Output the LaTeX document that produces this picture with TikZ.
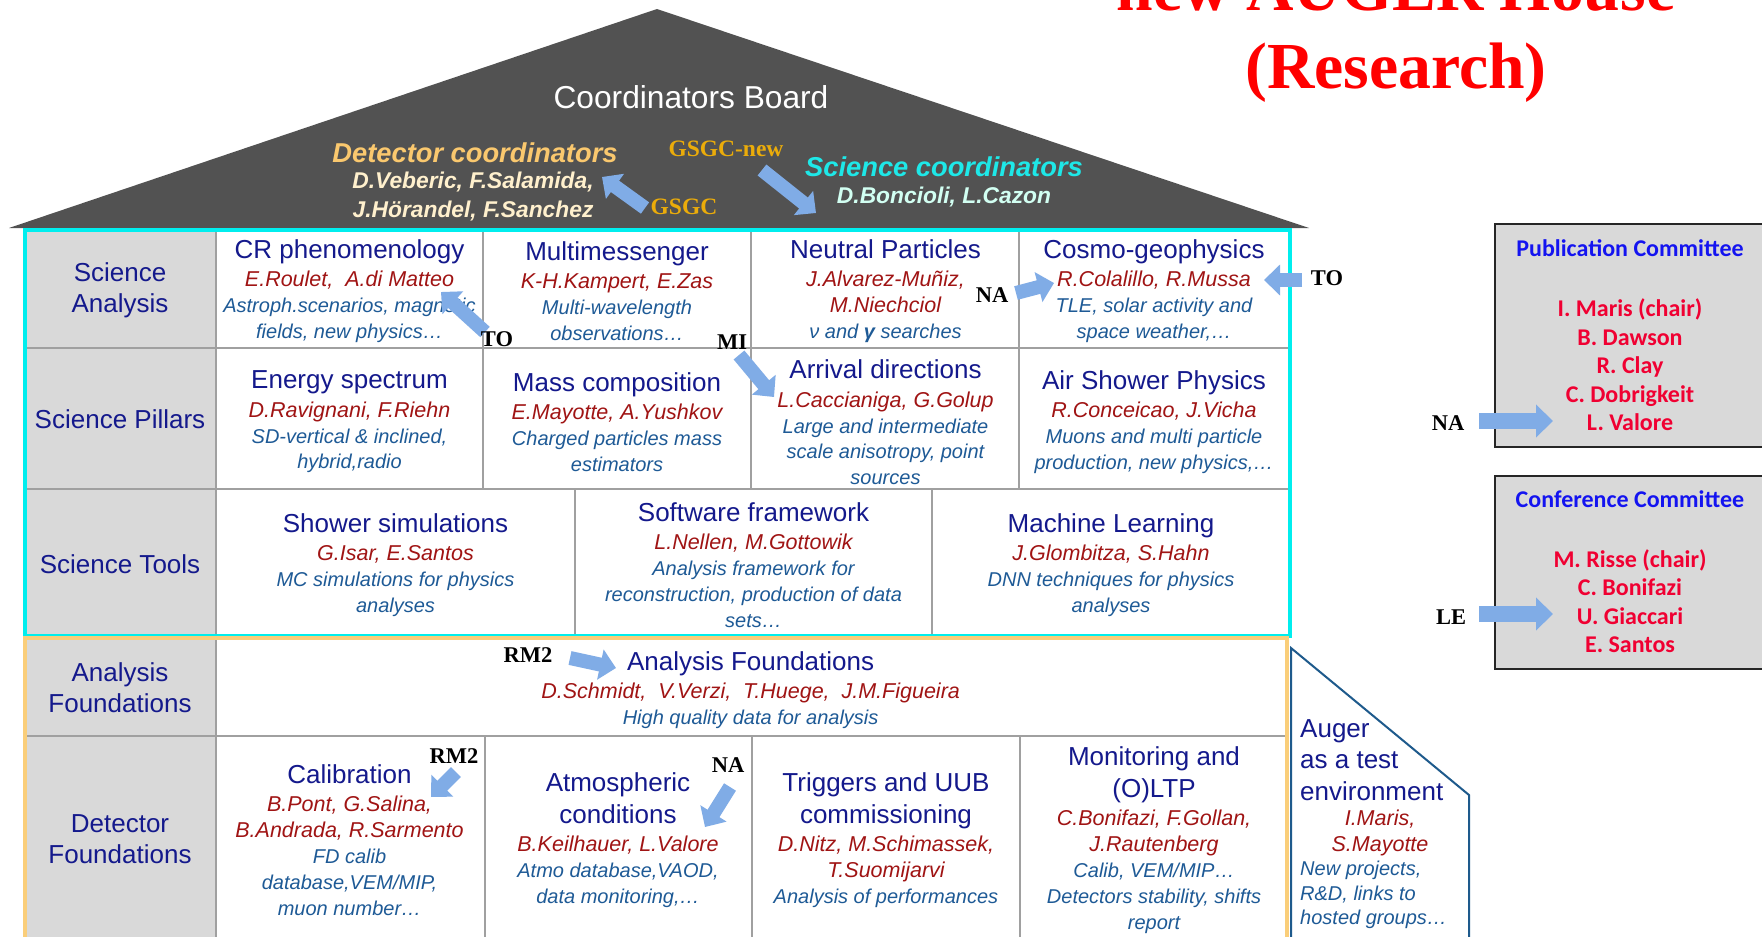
\documentclass[tikz,border=0pt]{standalone}
\usepackage{fontspec}
\setmainfont{Liberation Sans}
\newfontfamily\timesf{Liberation Serif}
\newfontfamily\calibf{Carlito}
\usetikzlibrary{arrows.meta,calc}
\definecolor{titleblue}{RGB}{20,25,140}
\definecolor{namered}{RGB}{160,20,20}
\definecolor{descblue}{RGB}{30,90,150}
\definecolor{lblgray}{RGB}{217,217,217}
\definecolor{gridgray}{RGB}{160,160,160}
\definecolor{framecyan}{RGB}{0,238,238}
\definecolor{frameorange}{RGB}{250,206,122}
\definecolor{roofgray}{RGB}{82,82,82}
\definecolor{detorange}{RGB}{250,200,110}
\definecolor{detname}{RGB}{255,240,205}
\definecolor{scicyan}{RGB}{30,232,232}
\definecolor{sciname}{RGB}{210,255,242}
\definecolor{gsgc}{RGB}{235,172,10}
\definecolor{arrowblue}{RGB}{128,172,230}
\definecolor{augerblue}{RGB}{30,90,140}
\definecolor{comblue}{RGB}{20,20,240}
\definecolor{comred}{RGB}{240,0,50}
\definecolor{titlered}{RGB}{255,0,0}
\newcommand\celltitle[1]{{\upshape\fontsize{26}{31.5}\selectfont\color{titleblue}#1}}
\newcommand\cellname[1]{{\fontsize{21.5}{25.8}\selectfont\color{namered}#1}}
\tikzset{
  cell/.style={align=center, inner sep=0pt, text=descblue, font=\itshape\fontsize{20}{25.8}\selectfont},
  lbl/.style={align=center, inner sep=0pt, text=titleblue, font=\fontsize{26}{31.2}\selectfont},
  tag/.style={inner sep=0pt, text=black, font=\timesf\bfseries\fontsize{22.5}{27}\selectfont},
  gtag/.style={inner sep=0pt, text=gsgc, font=\timesf\bfseries\fontsize{23.5}{28}\selectfont},
  barrow/.style={draw=arrowblue, line width=14pt, -{Triangle[width=30pt,length=16pt]}},
  bigarrow/.style={draw=arrowblue, line width=15.5pt, -{Triangle[width=32pt,length=17pt]}},
  gridline/.style={draw=gridgray, line width=1.5pt},
  combox/.style={draw=black!85, line width=2pt, fill=lblgray},
  comtitle/.style={inner sep=0pt, text=comblue, font=\calibf\bfseries\fontsize{24}{28}\selectfont},
  comnames/.style={inner sep=0pt, align=center, text=comred, font=\calibf\bfseries\fontsize{24}{28.5}\selectfont},
  bigtitle/.style={inner sep=0pt, text=titlered, font=\timesf\bfseries\fontsize{65.7}{78}\selectfont},
}
\begin{document}
\begin{tikzpicture}[x=1pt,y=-1pt]
\useasboundingbox (0,0) rectangle (1762,937);
\clip (0,0) rectangle (1762,937);
\fill[white] (0,0) rectangle (1762,937);

% ---------- title ----------
\node[bigtitle, anchor=base] (t1) at (1396,10) {new AUGER House};
\node[bigtitle, anchor=base] (t2) at (1396,88) {(Research)};

% ---------- roof ----------
\fill[roofgray] (657,9) -- (1309,228) -- (9,228) -- cycle;
\node[inner sep=0pt, text=white, font=\fontsize{31.7}{36}\selectfont] (cb) at (691,97) {Coordinators Board};
\node[inner sep=0pt, text=detorange, font=\bfseries\itshape\fontsize{27.3}{33}\selectfont] (dc) at (475,153) {Detector coordinators};
\node[inner sep=0pt, align=center, text=detname, font=\bfseries\itshape\fontsize{22.8}{29}\selectfont] (dcn) at (473,197) {D.Veberic, F.Salamida,\\J.Hörandel, F.Sanchez};
\node[inner sep=0pt, text=scicyan, font=\bfseries\itshape\fontsize{27.3}{33}\selectfont] (sc) at (944,167) {Science coordinators};
\node[inner sep=0pt, text=sciname, font=\bfseries\itshape\fontsize{22.8}{29}\selectfont] (scn) at (944,197) {D.Boncioli, L.Cazon};
\node[gtag] (gnew) at (726,149) {GSGC-new};
\node[gtag] (gold) at (684,207) {GSGC};

% ---------- gray label columns ----------
\fill[lblgray] (25,230) rectangle (216,636);
\fill[lblgray] (25,638) rectangle (216,937);

% ---------- grid ----------
\draw[gridline] (25,348) -- (1290,348);
\draw[gridline] (25,489) -- (1290,489);
\draw[gridline] (216,230) -- (216,636);
\draw[gridline] (483,230) -- (483,489);
\draw[gridline] (751,230) -- (751,489);
\draw[gridline] (1019,230) -- (1019,489);
\draw[gridline] (575,489) -- (575,636);
\draw[gridline] (932,489) -- (932,636);
\draw[gridline] (25,736) -- (1287,736);
\draw[gridline] (216,638) -- (216,937);
\draw[gridline] (485,736) -- (485,937);
\draw[gridline] (752,736) -- (752,937);
\draw[gridline] (1020,736) -- (1020,937);

% ---------- frames ----------
\draw[framecyan, line width=4pt] (25,230) rectangle (1290,636);
\draw[frameorange, line width=4pt] (25,638) rectangle (1287,960);
\draw[augerblue, line width=2pt] (1291,960) -- (1291,648) -- (1469,795) -- (1469,960);

% ---------- row labels ----------
\node[lbl] (lSA) at (120,290) {Science\\Analysis};
\node[lbl] (lSP) at (120,419) {Science Pillars};
\node[lbl] (lST) at (120,564) {Science Tools};
\node[lbl] (lAF) at (120,688) {Analysis\\Foundations};
\node[lbl] (lDF) at (120,839) {Detector\\Foundations};

% ---------- row 1 ----------
\node[cell] (cr) at (349.5,291) {\celltitle{CR phenomenology}\\[2.5pt]\cellname{E.Roulet,\ \ A.di Matteo}\\Astroph.scenarios, magnetic\\fields, new physics…};
\node[cell] (mm) at (617,291) {\celltitle{Multimessenger}\\[2.5pt]\cellname{K-H.Kampert, E.Zas}\\Multi-wavelength\\observations…};
\node[cell] (np) at (885.5,291) {\celltitle{Neutral Particles}\\[2.5pt]\cellname{J.Alvarez-Muñiz,}\\\cellname{M.Niechciol}\\ν and {\bfseries γ} searches};
\node[cell] (cg) at (1154,291) {\celltitle{Cosmo-geophysics}\\[2.5pt]\cellname{R.Colalillo, R.Mussa}\\TLE, solar activity and\\space weather,…};

% ---------- row 2 ----------
\node[cell] (es) at (349.5,422) {\celltitle{Energy spectrum}\\[2.5pt]\cellname{D.Ravignani, F.Riehn}\\SD-vertical \& inclined,\\hybrid,radio};
\node[cell] (mc) at (617,422) {\celltitle{Mass composition}\\[2.5pt]\cellname{E.Mayotte, A.Yushkov}\\Charged particles mass\\estimators};
\node[cell] (ad) at (885.5,422.5) {\celltitle{Arrival directions}\\[2.5pt]\cellname{L.Caccianiga, G.Golup}\\Large and intermediate\\scale anisotropy, point\\sources};
\node[cell] (as) at (1154,422) {\celltitle{Air Shower Physics}\\[2.5pt]\cellname{R.Conceicao, J.Vicha}\\Muons and multi particle\\production, new physics,…};

% ---------- row 3 ----------
\node[cell] (ss) at (395.5,565) {\celltitle{Shower simulations}\\[2.5pt]\cellname{G.Isar, E.Santos}\\MC simulations for physics\\analyses};
\node[cell] (sf) at (753.5,565) {\celltitle{Software framework}\\[2.5pt]\cellname{L.Nellen, M.Gottowik}\\Analysis framework for\\reconstruction, production of data\\sets…};
\node[cell] (ml) at (1111,565) {\celltitle{Machine Learning}\\[2.5pt]\cellname{J.Glombitza, S.Hahn}\\DNN techniques for physics\\analyses};

% ---------- foundations ----------
\node[cell] (af) at (750.6,690) {\celltitle{Analysis Foundations}\\[2.5pt]\cellname{D.Schmidt,\ \ V.Verzi,\ \ T.Huege,\ \ J.M.Figueira}\\High quality data for analysis};
\node[cell] (cal) at (349.5,840) {\celltitle{Calibration}\\[2.5pt]\cellname{B.Pont, G.Salina,}\\\cellname{B.Andrada, R.Sarmento}\\FD calib\\database,VEM/MIP,\\muon number…};
\node[cell] (atm) at (618,840) {\celltitle{Atmospheric}\\[6pt]\celltitle{conditions}\\[2.5pt]\cellname{B.Keilhauer, L.Valore}\\Atmo database,VAOD,\\data monitoring,…};
\node[cell] (trg) at (886,840) {\celltitle{Triggers and UUB}\\[6pt]\celltitle{commissioning}\\[2.5pt]\cellname{D.Nitz, M.Schimassek,}\\\cellname{T.Suomijarvi}\\Analysis of performances};
\node[cell] (mon) at (1154,840) {\celltitle{Monitoring and}\\[6pt]\celltitle{(O)LTP}\\[2.5pt]\cellname{C.Bonifazi, F.Gollan,}\\\cellname{J.Rautenberg}\\Calib, VEM/MIP…\\Detectors stability, shifts\\report};

% ---------- Auger test environment ----------
\node[lbl, align=left, anchor=west] (augT) at (1300,760) {Auger\\as a test\\environment};
\node[cell] (augN) at (1380,833) {\cellname{I.Maris,}\\\cellname{S.Mayotte}};
\node[cell, align=left, anchor=west, font=\itshape\fontsize{20}{24.5}\selectfont] (augD) at (1300,895) {New projects,\\R\&D, links to\\hosted groups…};

% ---------- committees ----------
\draw[combox] (1495,224) rectangle (1780,447);
\draw[combox] (1495,476) rectangle (1780,669);
\node[comtitle] (pubT) at (1630,248) {Publication Committee};
\node[comnames] (pubN) at (1630,365) {I. Maris (chair)\\B. Dawson\\R. Clay\\C. Dobrigkeit\\L. Valore};
\node[comtitle] (confT) at (1630,499) {Conference Committee};
\node[comnames] (confN) at (1630,601) {M. Risse (chair)\\C. Bonifazi\\U. Giaccari\\E. Santos};

% ---------- arrows ----------
\coordinate (a1s) at (485,332);  \coordinate (a1e) at (441,292);
\coordinate (a2s) at (739,355);  \coordinate (a2e) at (774,397);
\coordinate (a3s) at (1016,293); \coordinate (a3e) at (1054,283);
\coordinate (a4s) at (1302,280); \coordinate (a4e) at (1264,280);
\coordinate (a5s) at (570,658);  \coordinate (a5e) at (616,668);
\coordinate (a6s) at (456,772);  \coordinate (a6e) at (431,797);
\coordinate (a7s) at (730,787);  \coordinate (a7e) at (705,827);
\coordinate (a8s) at (645,208);  \coordinate (a8e) at (602,177);
\coordinate (a9s) at (762,170);  \coordinate (a9e) at (816,213);
\coordinate (a10s) at (1479,421); \coordinate (a10e) at (1553,421);
\coordinate (a11s) at (1479,614); \coordinate (a11e) at (1553,614);
\foreach \i in {1,...,9} {\draw[barrow] (a\i s) -- (a\i e);}
\draw[bigarrow] (a10s) -- (a10e);
\draw[bigarrow] (a11s) -- (a11e);

% ---------- tags ----------
\node[tag] (tgTO1) at (497,339) {TO};
\node[tag] (tgMI) at (732,342) {MI};
\node[tag] (tgNA1) at (992,295) {NA};
\node[tag] (tgTO2) at (1327,278) {TO};
\node[tag] (tgRM1) at (528,655) {RM2};
\node[tag] (tgRM2) at (454,756) {RM2};
\node[tag] (tgNA2) at (728,765) {NA};
\node[tag] (tgNA3) at (1448,423) {NA};
\node[tag] (tgLE) at (1451,617) {LE};
\end{tikzpicture}
\end{document}
